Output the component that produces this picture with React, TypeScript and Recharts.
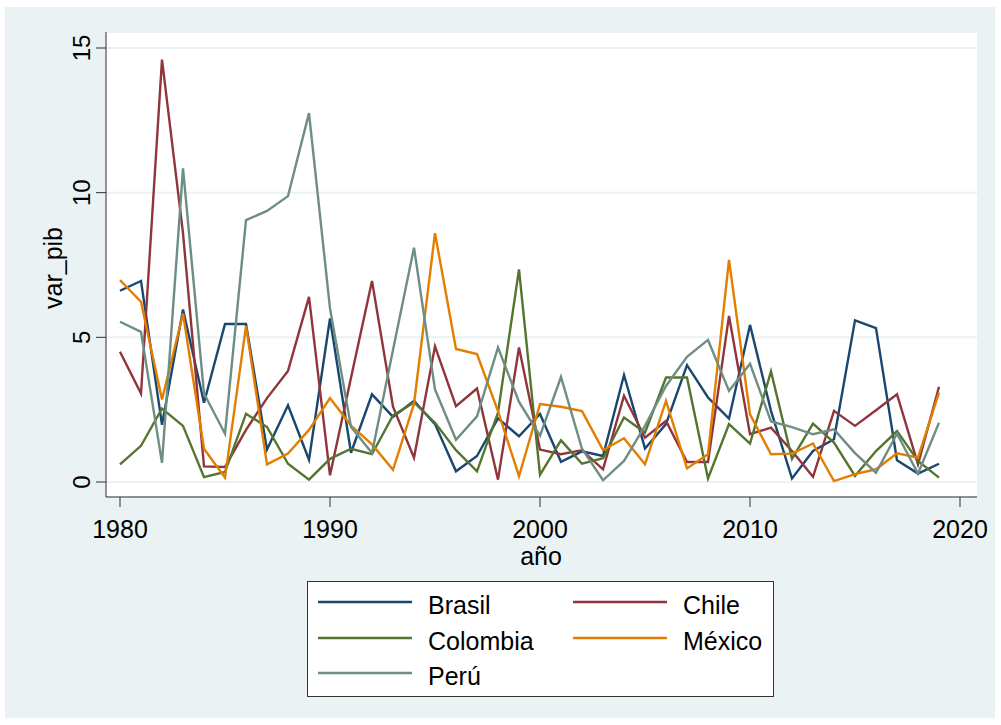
import React from "react"
import { LineChart, Line, XAxis, YAxis, CartesianGrid } from "recharts"

// años 1980-2019
const years = [
  1980, 1981, 1982, 1983, 1984, 1985, 1986, 1987, 1988, 1989,
  1990, 1991, 1992, 1993, 1994, 1995, 1996, 1997, 1998, 1999,
  2000, 2001, 2002, 2003, 2004, 2005, 2006, 2007, 2008, 2009,
  2010, 2011, 2012, 2013, 2014, 2015, 2016, 2017, 2018, 2019,
]

const brasil = [
  6.61, 6.95, 1.98, 5.96, 2.74, 5.46, 5.46, 1.12, 2.65, 0.77,
  5.65, 1.01, 3.03, 2.25, 2.8, 2.0, 0.37, 0.9, 2.2, 1.58,
  2.35, 0.7, 1.06, 0.9, 3.7, 1.16, 2.0, 4.04, 2.92, 2.19,
  5.43, 2.46, 0.12, 1.07, 1.48, 5.59, 5.32, 0.75, 0.29, 0.63,
]

const chile = [
  4.5, 3.06, 14.6, 8.6, 0.54, 0.52, 1.8, 2.9, 3.84, 6.4,
  0.23, 3.6, 6.95, 2.6, 0.84, 4.69, 2.62, 3.23, 0.08, 4.65,
  1.12, 0.96, 1.1, 0.44, 2.98, 1.53, 2.11, 0.69, 0.69, 5.74,
  1.65, 1.88, 1.07, 0.18, 2.46, 1.94, 2.48, 3.03, 0.61, 3.29,
]

const colombia = [
  0.61, 1.25, 2.54, 1.94, 0.17, 0.35, 2.36, 1.9, 0.63, 0.08,
  0.8, 1.15, 0.96, 2.3, 2.75, 2.05, 1.1, 0.37, 2.4, 7.35,
  0.25, 1.44, 0.63, 0.82, 2.23, 1.71, 3.61, 3.61, 0.12, 2.0,
  1.33, 3.82, 0.8, 2.02, 1.36, 0.21, 1.07, 1.76, 0.73, 0.15,
]

const mexico = [
  6.98, 6.23, 2.85, 5.82, 1.15, 0.15, 5.39, 0.61, 0.98, 1.8,
  2.9, 1.95, 1.3, 0.42, 2.7, 8.6, 4.6, 4.42, 2.45, 0.2,
  2.69, 2.6, 2.45, 1.1, 1.51, 0.61, 2.8, 0.47, 0.96, 7.68,
  2.34, 0.96, 0.98, 1.33, 0.03, 0.27, 0.44, 0.99, 0.84, 3.09,
]

const peru = [
  5.54, 5.19, 0.66, 10.84, 3.06, 1.67, 9.05, 9.37, 9.88, 12.75,
  6.0, 1.9, 1.0, 4.56, 8.1, 3.2, 1.46, 2.27, 4.65, 2.77,
  1.6, 3.63, 1.15, 0.06, 0.73, 1.94, 3.32, 4.33, 4.91, 3.15,
  4.09, 2.09, 1.9, 1.65, 1.82, 1.0, 0.32, 1.67, 0.29, 2.05,
]

const xTicks = [1980, 1990, 2000, 2010, 2020]
const yTicks = [0, 5, 10, 15]

const series = [
  { key: "brasil", name: "Brasil", color: "#1a476f", values: brasil },
  { key: "chile", name: "Chile", color: "#90353b", values: chile },
  { key: "colombia", name: "Colombia", color: "#55752f", values: colombia },
  { key: "mexico", name: "México", color: "#e37e00", values: mexico },
  { key: "peru", name: "Perú", color: "#6e8e84", values: peru },
]

const data = years.map((yr, i) => {
  const row: Record<string, number> = { anio: yr }
  series.forEach((s) => {
    row[s.key] = s.values[i]
  })
  return row
})

const FONT = "'Liberation Sans', Arial, Helvetica, sans-serif"
const AXIS = "#2e2e2e"

const YTick = (props: any) => {
  const { x, y, payload } = props
  const bx = x - 4
  return (
    <text x={bx} y={y} transform={`rotate(-90, ${bx}, ${y})`} textAnchor="middle"
      fontSize={24} fontFamily={FONT} fill="#000">
      {payload.value}
    </text>
  )
}

const XTick = (props: any) => {
  const { x, y, payload } = props
  return (
    <text x={x} y={y + 29} textAnchor="middle" fontSize={25} fontFamily={FONT} fill="#000">
      {payload.value}
    </text>
  )
}

function LegendBox() {
  const rows = [602, 638, 673]
  const cols = [318, 573]
  return (
    <svg width={1001} height={725} style={{ position: "absolute", left: 0, top: 0, pointerEvents: "none" }}>
      <rect x={307.5} y={581.5} width={466} height={115} fill="#fff" stroke="#333" strokeWidth={1} />
      {series.map((s, i) => {
        const lx = cols[i % 2]
        const ly = rows[Math.floor(i / 2)]
        return (
          <g key={s.key}>
            <line x1={lx} x2={lx + 94} y1={ly} y2={ly} stroke={s.color} strokeWidth={2.4} />
            <text x={lx + 110} y={ly + 12} fontSize={25} fontFamily={FONT} fill="#000">{s.name}</text>
          </g>
        )
      })}
    </svg>
  )
}

export default function App() {
  return (
    <div style={{ position: "absolute", left: 0, top: 0, width: 1001, height: 725, background: "#fff" }}>
      <div style={{ position: "absolute", left: 5, top: 7, width: 990, height: 711, background: "#eaf2f3" }} />
      <div style={{ position: "absolute", left: 0, top: 0 }}>
        <LineChart width={1001} height={725} data={data} margin={{ top: 32, right: 24, left: 0, bottom: 0 }}>
          <CartesianGrid vertical={false} fill="#ffffff" stroke="#eaf2f3" strokeWidth={2} />
          <XAxis
            dataKey="anio"
            type="number"
            domain={[1980, 2020]}
            ticks={xTicks}
            padding={{ left: 14, right: 17 }}
            height={228}
            tickSize={10}
            tickLine={{ stroke: AXIS }}
            axisLine={{ stroke: AXIS }}
            tick={<XTick />}
            label={{
              content: () => (
                <text x={541} y={565} textAnchor="middle" fontSize={25} fontFamily={FONT} fill="#000">año</text>
              ),
            }}
          />
          <YAxis
            type="number"
            domain={[0, 15]}
            ticks={yTicks}
            padding={{ top: 16, bottom: 15 }}
            width={106}
            tickSize={10}
            tickLine={{ stroke: AXIS }}
            axisLine={{ stroke: AXIS }}
            tick={<YTick />}
            label={{
              content: () => (
                <text x={62} y={268} transform="rotate(-90, 62, 268)" textAnchor="middle"
                  fontSize={25} fontFamily={FONT} fill="#000">var_pib</text>
              ),
            }}
          />
          {series.map((s) => (
            <Line
              key={s.key}
              type="linear"
              dataKey={s.key}
              name={s.name}
              stroke={s.color}
              strokeWidth={2.4}
              dot={false}
              isAnimationActive={false}
            />
          ))}
        </LineChart>
      </div>
      <LegendBox />
    </div>
  )
}
